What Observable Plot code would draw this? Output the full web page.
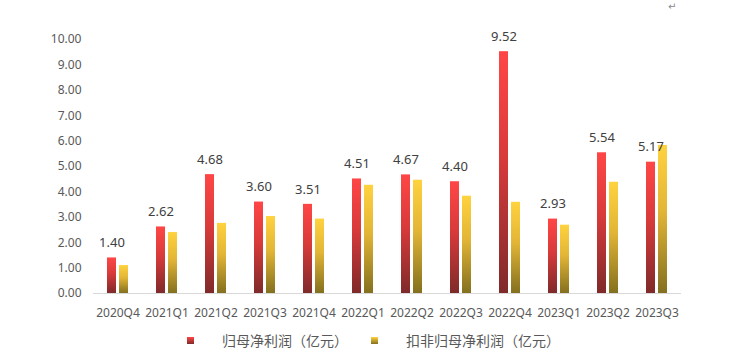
<!DOCTYPE html>
<html>
<head>
<meta charset="utf-8">
<script src="https://cdn.jsdelivr.net/npm/d3@7"></script>
<script src="https://cdn.jsdelivr.net/npm/@observablehq/plot@0.6"></script>
<style>
  html, body { margin: 0; padding: 0; background: #fff; }
  #wrap { position: relative; width: 741px; height: 357px; overflow: hidden; font-family: "Noto Sans", "Noto Sans CJK SC", sans-serif; }
  #chart { position: absolute; left: 0; top: 0; }
  .leg { position: absolute; top: 330px; height: 20px; display: flex; align-items: center; font-family: "Noto Sans CJK SC", sans-serif; font-size: 14px; color: #595959; }
  .sw { width: 7px; height: 7px; }
  #mark { position: absolute; left: 668px; top: 1px; font-size: 10px; line-height: 11px; color: #888; font-family: "DejaVu Sans", sans-serif; }
</style>
</head>
<body>
<div id="wrap">
  <div id="chart"></div>
  <div class="leg" style="left:187px"><div class="sw" style="background:linear-gradient(#ff4646,#7f2a2a)"></div></div>
  <div class="leg" style="left:222px">归母净利润（亿元）</div>
  <div class="leg" style="left:371px"><div class="sw" style="background:linear-gradient(#ffd23f,#84701f)"></div></div>
  <div class="leg" style="left:406px">扣非归母净利润（亿元）</div>
  <div id="mark">↵</div>
</div>
<script>
const quarters = ["2020Q4","2021Q1","2021Q2","2021Q3","2021Q4","2022Q1","2022Q2","2022Q3","2022Q4","2023Q1","2023Q2","2023Q3"];
const netProfit = [1.40, 2.62, 4.68, 3.60, 3.51, 4.51, 4.67, 4.40, 9.52, 2.93, 5.54, 5.17];
const deductedProfit = [1.10, 2.40, 2.76, 3.03, 2.93, 4.26, 4.46, 3.83, 3.59, 2.69, 4.38, 5.83];
const seriesNames = ["归母净利润（亿元）", "扣非归母净利润（亿元）"];
const yTicks = [0, 1, 2, 3, 4, 5, 6, 7, 8, 9, 10];

const redRows = quarters.map((q, i) => ({quarter: q, series: seriesNames[0], value: netProfit[i]}));
const yelRows = quarters.map((q, i) => ({quarter: q, series: seriesNames[1], value: deductedProfit[i]}));

const chart = Plot.plot({
  width: 741,
  height: 325,
  marginLeft: 90,
  marginRight: 58,
  marginTop: 39,
  marginBottom: 32,
  style: {fontFamily: "'Noto Sans', 'Noto Sans CJK SC', sans-serif", background: "transparent"},
  fx: {domain: quarters, padding: 0, label: null},
  x: {domain: seriesNames, paddingInner: 0.23, paddingOuter: 1.0, axis: null},
  y: {domain: [0, 10], label: null},
  marks: [
    Plot.axisY({ticks: yTicks, tickFormat: d => d.toFixed(2), tickSize: 0, tickPadding: 12, fontSize: 12, fill: "#595959", label: null}),
    Plot.axisFx({anchor: "bottom", tickSize: 0, tickPadding: 15, fontSize: 12, fill: "#595959", label: null}),
    Plot.barY(redRows, {fx: "quarter", x: "series", y: "value", fill: "url(#gradRed)"}),
    Plot.barY(yelRows, {fx: "quarter", x: "series", y: "value", fill: "url(#gradYel)"}),
    Plot.ruleY([0], {stroke: "#d9d9d9", strokeWidth: 1}),
    Plot.text(redRows, {fx: "quarter", x: "series", y: "value", text: d => d.value.toFixed(2), dy: -15, fontSize: 13, fill: "#404040"})
  ]
});

const ns = "http://www.w3.org/2000/svg";
const defs = document.createElementNS(ns, "defs");
defs.innerHTML = `
  <linearGradient id="gradRed" x1="0" y1="0" x2="0" y2="1">
    <stop offset="0" stop-color="#ff4646"/>
    <stop offset="0.45" stop-color="#d83a3a"/>
    <stop offset="1" stop-color="#7f2a2a"/>
  </linearGradient>
  <linearGradient id="gradYel" x1="0" y1="0" x2="0" y2="1">
    <stop offset="0" stop-color="#ffd23f"/>
    <stop offset="0.45" stop-color="#e2b536"/>
    <stop offset="1" stop-color="#84701f"/>
  </linearGradient>`;
chart.insertBefore(defs, chart.firstChild);
document.getElementById("chart").appendChild(chart);
</script>
</body>
</html>
